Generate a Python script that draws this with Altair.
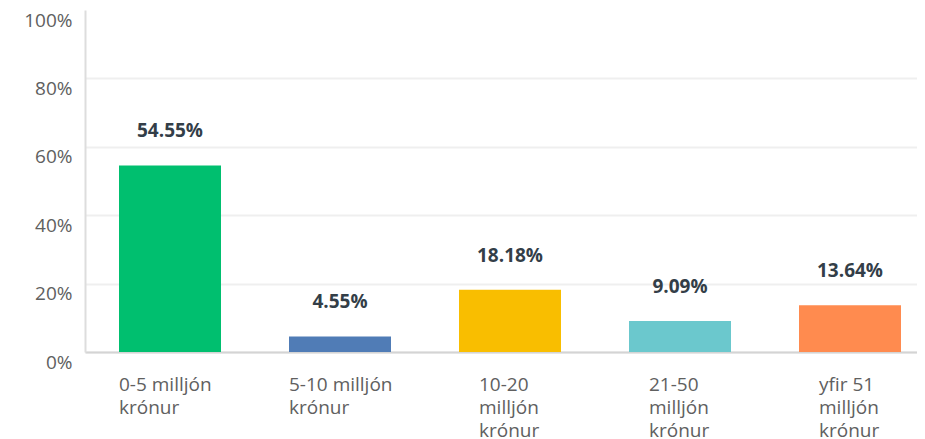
import altair as alt
import pandas as pd

categories = ["0-5 milljón krónur", "5-10 milljón krónur", "10-20 milljón krónur",
              "21-50 milljón krónur", "yfir 51 milljón krónur"]
label_lines = [["0-5 milljón", "krónur"], ["5-10 milljón", "krónur"],
               ["10-20", "milljón", "krónur"], ["21-50", "milljón", "krónur"],
               ["yfir 51", "milljón", "krónur"]]
values = [0.5455, 0.0455, 0.1818, 0.0909, 0.1364]
value_labels = ["54.55%", "4.55%", "18.18%", "9.09%", "13.64%"]
colors = ["#00BF6F", "#507CB6", "#F9BE00", "#6BC8CD", "#FF8B4F"]
y_ticks = [0, 0.1, 0.2, 0.3, 0.4, 0.5, 0.6, 0.7, 0.8, 0.9, 1.0]

df = pd.DataFrame({"cat": categories, "val": values, "lab": value_labels})

# build multi-line label expression
expr = "''"
for c, lines in reversed(list(zip(categories, label_lines))):
    arr = "[" + ",".join("'" + l + "'" for l in lines) + "]"
    expr = f"datum.value == '{c}' ? {arr} : ({expr})"

two_line = " || ".join(f"datum.value == '{c}'" for c, l in zip(categories, label_lines) if len(l) == 2)

FONT = "Open Sans"

x = alt.X("cat:N", sort=categories, title=None,
          scale=alt.Scale(range=[0, 850], paddingInner=0.4, paddingOuter=0.2),
          axis=alt.Axis(labelExpr=expr, labelAngle=0, labelAlign="left",
                        labelBaseline="top",
                        labelOffset={"condition": {"test": two_line, "value": -51}, "value": -31},
                        labelPadding=23, labelLineHeight=23, labelFontSize=19,
                        labelFont=FONT, labelColor="#606060", ticks=False, tickSize=0,
                        domainColor="#d4d4d4", domainWidth=2, grid=False,
                        labelOverlap=False, labelLimit=0))

bars = alt.Chart(df).mark_bar().encode(
    x=x,
    y=alt.Y("val:Q", title=None,
            scale=alt.Scale(domain=[0, 1], nice=False),
            axis=alt.Axis(values=y_ticks, format=".0%",
                          labelExpr="round(datum.value*10) % 2 == 0 ? datum.label : ''",
                          labelFontSize=19, labelFont=FONT, labelColor="#606060",
                          labelOffset=10, labelPadding=13, ticks=False, tickSize=0,
                          domainColor="#dddddd", domainWidth=2,
                          gridColor="#efefef", gridWidth=2,
                          gridOpacity={"condition": {"test": "datum.value >= 1", "value": 0}, "value": 1})),
    color=alt.Color("cat:N", sort=categories, legend=None,
                    scale=alt.Scale(domain=categories, range=colors)),
)

texts = alt.Chart(df).mark_text(baseline="bottom", dy=-24, fontSize=19,
                                fontWeight="bold", font=FONT, color="#333e48").encode(
    x=alt.X("cat:N", sort=categories),
    y=alt.Y("val:Q"),
    text="lab:N",
)

chart = alt.layer(bars, texts).properties(
    width=832, height=342,
    autosize=alt.AutoSizeParams(type="none"),
    padding={"left": 77, "top": 2, "right": 0, "bottom": 87},
).configure_view(stroke=None)

chart.save("out.html", embed_options={"renderer": "svg", "actions": False})
